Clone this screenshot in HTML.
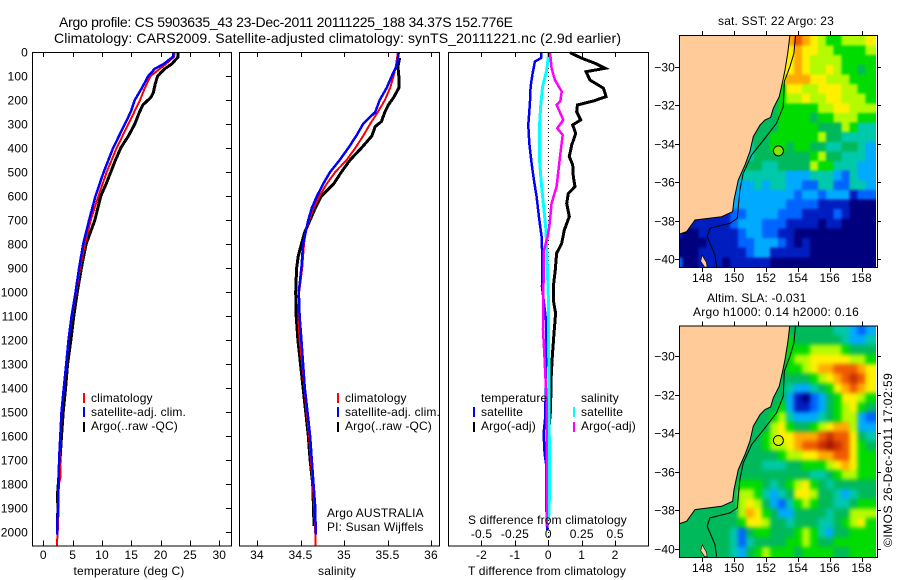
<!DOCTYPE html>
<html lang="en">
<head>
<meta charset="utf-8">
<title>Argo profile</title>
<style>
html,body{margin:0;padding:0;background:#fff;}
svg{display:block;}
text{font-family:"Liberation Sans",sans-serif;font-size:12px;fill:#000;letter-spacing:0.15px;}
.t14{font-size:14px;letter-spacing:0;}
</style>
</head>
<body>
<svg id="chart" xmlns="http://www.w3.org/2000/svg" width="900" height="580" viewBox="0 0 900 580">
  <rect x="0" y="0" width="900" height="580" fill="#fff"/>
  <text class="t14" x="59" y="27" textLength="454">Argo profile: CS 5903635_43 23-Dec-2011 20111225_188 34.37S 152.776E</text>
  <text class="t14" x="54" y="43" textLength="567">Climatology: CARS2009. Satellite-adjusted climatology: synTS_20111221.nc (2.9d earlier)</text>

  <g id="panels"></g>
  <g id="maps"></g>

  <text x="129" y="575" text-anchor="middle">temperature (deg C)</text>
  <text x="337" y="575" text-anchor="middle">salinity</text>
  <text x="547" y="575" text-anchor="middle">T difference from climatology</text>
  <text x="468" y="524">S difference from climatology</text>

  <text x="91" y="402">climatology</text>
  <text x="91" y="416">satellite-adj. clim.</text>
  <text x="91" y="430">Argo(..raw -QC)</text>
  <text x="345" y="402">climatology</text>
  <text x="345" y="416">satellite-adj. clim.</text>
  <text x="345" y="430">Argo(..raw -QC)</text>
  <text x="327" y="517">Argo AUSTRALIA</text>
  <text x="327" y="531">PI: Susan Wijffels</text>
  <text x="481" y="402">temperature</text>
  <text x="481" y="416">satellite</text>
  <text x="481" y="430">Argo(-adj)</text>
  <text x="581" y="402">salinity</text>
  <text x="581" y="416">satellite</text>
  <text x="581" y="430">Argo(-adj)</text>

  <rect x="83" y="393" width="2" height="10" fill="#f00"/>
  <rect x="83" y="407" width="2" height="10" fill="#00f"/>
  <rect x="83" y="422" width="2" height="10" fill="#000"/>
  <rect x="337" y="393" width="2" height="10" fill="#f00"/>
  <rect x="337" y="407" width="2" height="10" fill="#00f"/>
  <rect x="337" y="422" width="2" height="10" fill="#000"/>
  <rect x="473" y="407" width="2" height="10" fill="#00f"/>
  <rect x="473" y="422" width="2" height="10" fill="#000"/>
  <rect x="573" y="407" width="2" height="10" fill="#0ff"/>
  <rect x="573" y="422" width="2" height="10" fill="#f0f"/>

  <text x="776" y="25" text-anchor="middle">sat. SST: 22 Argo: 23</text>
  <text x="707" y="302">Altim. SLA: -0.031</text>
  <text x="693" y="316" textLength="166">Argo h1000: 0.14 h2000: 0.16</text>
  <text transform="translate(892,547) rotate(-90)" textLength="174">©IMOS 26-Dec-2011 17:02:59</text>
</svg>

<script>
// ---- depth axis ----
const depthTicks = [0,100,200,300,400,500,600,700,800,900,1000,1100,1200,1300,1400,1500,1600,1700,1800,1900,2000];
const tempTicks = [0,5,10,15,20,25,30];
const salTicks = [34,34.5,35,35.5,36];
const tDiffTicks = [-2,-1,0,1,2];
const sDiffTicks = [-0.5,-0.25,0,0.25,0.5];
const sDiffTickLabels = ['-0.5','-0.25','0','0.25','0.5'];

// ---- temperature panel ----
const tempSatDepth = [0,20,50,70,100,150,200,250,300,400,500,600,700,800,900,1000,1100,1200,1300,1400,1500,1600,1700,1800,1900,1950,2000,2010];
const tempSat = [22.2,22.1,20.5,19,17.9,16.8,15.6,14.9,13.9,11.9,10.3,8.9,7.8,6.8,6.1,5.5,4.83,4.3,3.9,3.5,3.1,2.9,2.7,2.6,2.5,2.4,2.33,2.33];
const tempClimDepth = [0,20,50,100,150,200,300,400,500,600,700,800,900,1000,1100,1200,1300,1400,1500,1600,1700,1730,1770,1800,1900,2000,2056];
const tempClim = [22.4,22.3,20.9,18.3,17.3,16.5,14.5,12.5,10.8,9.4,8.1,7.1,6.25,5.6,4.9,4.35,3.95,3.55,3.15,2.95,2.8,2.95,2.95,2.65,2.6,2.45,2.3];
const tempArgoDepth = [0,20,50,70,100,130,170,190,220,250,300,350,400,450,500,550,600,700,800,900,1000,1100,1200,1300,1400,1500,1600,1700,1800,1850,1900,1950];
const tempArgo = [23,23,21.9,20.7,19.5,19.1,18.75,18.3,17,16.4,15.6,14.5,13.2,12.3,11.5,10.7,9.8,8.8,7.3,6.5,5.8,5.2,4.7,4.15,3.8,3.4,3.1,2.85,2.55,2.4,2.5,2.4];

// ---- salinity panel ----
const salSatDepth = [0,50,70,100,150,200,250,300,350,400,450,500,550,600,650,700,750,800,900,1000,1100,1200,1300,1400,1500,1600,1700,1800,1900,2010];
const salSat = [35.63,35.61,35.59,35.55,35.49,35.41,35.36,35.22,35.14,35.05,34.95,34.84,34.76,34.69,34.63,34.59,34.56,34.53,34.51,34.48,34.49,34.51,34.53,34.55,34.58,34.61,34.63,34.65,34.67,34.675];
const salClimDepth = [0,50,70,100,150,200,250,300,350,400,450,500,550,600,650,700,750,800,900,1000,1100,1200,1300,1400,1500,1600,1700,1800,1900,2056];
const salClim = [35.62,35.6,35.59,35.57,35.53,35.47,35.39,35.3,35.22,35.13,35.03,34.9,34.8,34.72,34.65,34.6,34.56,34.54,34.52,34.485,34.475,34.49,34.52,34.545,34.57,34.6,34.62,34.64,34.66,34.675];
const salArgoDepth = [25,60,100,150,170,190,220,250,290,310,350,400,450,500,550,600,650,700,750,800,850,900,1000,1100,1200,1300,1400,1500,1600,1700,1800,1900,1975];
const salArgo = [35.64,35.62,35.63,35.63,35.6,35.57,35.51,35.47,35.43,35.36,35.32,35.2,35.07,34.97,34.88,34.74,34.67,34.61,34.55,34.51,34.475,34.455,34.445,34.45,34.47,34.5,34.53,34.56,34.59,34.61,34.64,34.65,34.655];

// ---- difference panel ----
const dTSatDepth = [0,25,40,89,144,214,304,380,464,533,603,686,769,853,978,1117,1311,1519,1589,1672,1714,1867,1992];
const dTSat = [-0.22,-0.22,-0.4,-0.47,-0.53,-0.55,-0.6,-0.57,-0.5,-0.43,-0.35,-0.28,-0.2,-0.18,-0.19,-0.07,-0.07,-0.09,-0.14,-0.11,-0.07,-0.07,-0.03];
const dTArgoDepth = [3,26,47,68,82,117,151,186,204,221,249,283,304,339,388,436,471,519,561,589,631,686,742,797,839,908,978,1033,1089,1172,1269,1367,1492,1547,1658,1950];
const dTArgo = [0.65,1.0,1.4,1.7,1.13,1.25,1.65,1.73,1.35,0.87,0.85,0.97,0.73,0.82,0.7,0.63,0.73,0.75,0.8,0.6,0.55,0.63,0.48,0.4,0.25,0.21,0.15,0.15,0.22,0.17,0.12,0.08,0.07,0.03,0,-0.03];
const dSSatDepth = [0,47,89,144,228,325,436,533,631,742,853,1019,1172,1630,1867,1950];
const dSSat = [0.003,-0.005,-0.0175,-0.0425,-0.0575,-0.0675,-0.0675,-0.055,-0.0375,-0.0175,-0.01,0,0.002,0.0075,0.0075,0.002];
const dSArgoDepth = [0,68,117,165,205,220,283,318,346,436,561,630,728,776,825,1020,1158,1255,1367,1450,1977];
const dSArgo = [0.0125,0.025,0.05,0.1,0.09,0.0625,0.1125,0.0675,0.1075,0.0875,0.0625,0.025,0.0075,-0.0075,-0.0325,-0.0375,-0.04,-0.03,-0.02,-0.0125,-0.01];

// ---- map axes ----
const lonTicks = [148,150,152,154,156,158];
const latTicks = [-30,-32,-34,-36,-38,-40];
const lonTickLabels = ['148','150','152','154','156','158'];
const latTickLabels = ['\u221230','\u221232','\u221234','\u221236','\u221238','\u221240'];

// ---- map cells: one hex digit per 0.5-degree cell, right aligned on 25 columns ----
const sstRows = [
"9a987667778","889887766667","889877776666","889877876656","799988777666","688778887766",
"5677877887776","5666667788777","55666656677766","555666665557644","556666667554444",
"4556656655445543","4555555567554443","45544555576644433","44444433344432433",
"433434433224422443","333333332332333122","333333322221111000",
"1111111223333222111121000","1111111233322211110110000","1001111123322110000000000",
"0000111122333210100000000","0001111112331111100000000","2001110111110000000000000"
];
const slaRows = [
"55555544323","565555554334","566677776555","567788888776","5667899aaa98","55556789aba8",
"5543345689a98","5531023568876","55631123567865","556743334567732","557865567899733",
"556788999abaa854","5567789aabcba865","555556778899aa866","55544455666789866",
"555555555544567766","566654567865455555","577643458875543455",
"5555555578753246765544566","5555555579865335555455777","5555555568875545554456786",
"5555555425665556764355666","5555555424555566765566666","5555555435676665666655666"
];
const coastLon = [153.5,153.36,153.19,153.04,152.83,152.46,152.29,151.93,151.62,151.2,150.99,150.68,150.26,149.99,149.9,149.21,147.54,147.02,146.56];
const coastLat = [-28.37,-29.31,-30.17,-30.78,-31.56,-32.16,-32.63,-32.77,-33.03,-33.63,-34.41,-35.1,-35.88,-36.92,-37.53,-37.79,-37.96,-38.56,-38.69];
const islandLon = [148,148.1,148.25,148.3,148.15,147.9];
const islandLat = [-39.78,-39.95,-40.15,-40.4,-40.4,-40.1];
const isobathLon = [153.86,153.75,153.5,153.15,153.08,152.66,151.93,151.1,150.57,150.36,150.26,150.2,149.74,148.48,148.31,148.8,148.9];
const isobathLat = [-28.37,-29.31,-30,-30.78,-32.08,-32.94,-33.72,-34.58,-35.54,-36.4,-37.27,-37.87,-38.13,-38.39,-38.82,-39.78,-40.4];
const floatLon = 152.776;
const floatLat = -34.37;

const palette = ['#00007f','#001ec0','#0064ff','#00aaff','#00c8aa','#00b95a','#00dc00','#b4fa00','#fff000','#ffaa00','#f05a00','#c83200','#aa1400'];

const NS = 'http://www.w3.org/2000/svg';
const panelsGroup = document.getElementById('panels');
const mapsGroup = document.getElementById('maps');

function make(parent, tag, attrs, name) {
  const el = document.createElementNS(NS, tag);
  for (const k in attrs) el.setAttribute(k, attrs[k]);
  
  
  parent.appendChild(el);
  return el;
}
function label(parent, x, y, str, anchor, name) {
  const t = make(parent, 'text', {x: x, y: y, 'text-anchor': anchor}, name);
  t.textContent = str;
  return t;
}

const yTop = 52, yBottom = 545.5;
const yDepth = d => yTop + d * 0.24;

function series(parent, depths, values, xScale, color, width, name) {
  const pts = depths.map((d, i) => xScale(values[i]).toFixed(1) + ',' + yDepth(d).toFixed(1)).join(' ');
  make(parent, 'polyline', {points: pts, fill: 'none', stroke: color, 'stroke-width': width, 'shape-rendering': 'crispEdges', 'stroke-linejoin': 'miter'}, name);
}
function frame(parent, x0, x1, name) {
  make(parent, 'rect', {x: x0 + 0.5, y: yTop + 0.5, width: x1 - x0, height: yBottom - yTop, fill: 'none', stroke: '#000', 'stroke-width': 1, 'shape-rendering': 'crispEdges'}, name);
}
function xTicks(parent, ticks, xScale, name) {
  ticks.forEach(v => {
    const x = Math.round(xScale(v)) + 0.5;
    make(parent, 'line', {x1: x, x2: x, y1: yTop, y2: yTop + 5, stroke: '#000', 'shape-rendering': 'crispEdges'}, name + '-top-tick');
    make(parent, 'line', {x1: x, x2: x, y1: yBottom, y2: yBottom - 5, stroke: '#000', 'shape-rendering': 'crispEdges'}, name + '-bottom-tick');
  });
}

const xTemp = v => 43.3 + v * 5.867;
const xSal = v => 257 + (v - 34) * 87;
const xDT = v => 548.3 + v * 33.4;
const xDS = v => 548.3 + v * 133.6;

// temperature panel
const p1 = make(panelsGroup, 'g', {}, 'temperature-panel');
series(p1, tempArgoDepth, tempArgo, xTemp, '#000', 3, 'temperature-argo-line');
series(p1, tempClimDepth, tempClim, xTemp, '#f00', 2, 'temperature-climatology-line');
series(p1, tempSatDepth, tempSat, xTemp, '#00f', 2.5, 'temperature-satellite-line');
frame(p1, 32, 231, 'temperature-panel-frame');
xTicks(p1, tempTicks, xTemp, 'temperature');
tempTicks.forEach(v => label(p1, xTemp(v), 559, String(v), 'middle', 'temperature-tick-label'));
depthTicks.forEach(d => {
  const y = Math.round(yDepth(d)) + 0.5;
  make(p1, 'line', {x1: 226, x2: 231, y1: y, y2: y, stroke: '#000', 'shape-rendering': 'crispEdges'}, 'depth-tick');
  label(p1, 28, y + 4, String(d), 'end', 'depth-tick-label');
});

// salinity panel
const p2 = make(panelsGroup, 'g', {}, 'salinity-panel');
series(p2, salArgoDepth, salArgo, xSal, '#000', 3, 'salinity-argo-line');
series(p2, salClimDepth, salClim, xSal, '#f00', 2, 'salinity-climatology-line');
series(p2, salSatDepth, salSat, xSal, '#00f', 2.5, 'salinity-satellite-line');
frame(p2, 239, 439, 'salinity-panel-frame');
xTicks(p2, salTicks, xSal, 'salinity');
salTicks.forEach(v => label(p2, xSal(v), 559, String(v), 'middle', 'salinity-tick-label'));

// difference panel
const p3 = make(panelsGroup, 'g', {}, 'difference-panel');
make(p3, 'line', {x1: 548.5, x2: 548.5, y1: yTop, y2: yBottom, stroke: '#000', 'stroke-dasharray': '1 3', 'shape-rendering': 'crispEdges'}, 'zero-difference-line');
series(p3, dTSatDepth, dTSat, xDT, '#00f', 2.5, 'temperature-satellite-difference-line');
series(p3, dTArgoDepth, dTArgo, xDT, '#000', 3, 'temperature-argo-difference-line');
series(p3, dSSatDepth, dSSat, xDS, '#0ff', 3, 'salinity-satellite-difference-line');
series(p3, dSArgoDepth, dSArgo, xDS, '#f0f', 2.5, 'salinity-argo-difference-line');
frame(p3, 448, 648, 'difference-panel-frame');
xTicks(p3, tDiffTicks, xDT, 'difference');
tDiffTicks.forEach(v => label(p3, xDT(v), 559, String(v), 'middle', 't-difference-tick-label'));
sDiffTicks.forEach((v, i) => label(p3, xDS(v), 538, sDiffTickLabels[i], 'middle', 's-difference-tick-label'));

// maps
const mapX0 = 679, mapX1 = 877;
const xLon = lon => 702.3 + (lon - 148) * 15.93;
function drawMap(rows, yT, yB, markerFill, name, yAt30, blur) {
  const yLat = lat => yAt30 + (-30 - lat) * 19.26;
  const g = make(mapsGroup, 'g', {}, name);
  const clipId = name + '-clip';
  const cp = make(g, 'clipPath', {id: clipId}, name + '-clip-region');
  make(cp, 'rect', {x: mapX0, y: yT, width: mapX1 - mapX0 - 1, height: yB - yT}, name + '-clip-rect');
  const filterId = name + '-soften';
  const filt = make(g, 'filter', {id: filterId, filterUnits: 'userSpaceOnUse', x: mapX0 - 10, y: yT - 10, width: mapX1 - mapX0 + 20, height: yB - yT + 20, 'color-interpolation-filters': 'sRGB'}, name + '-soften-filter');
  make(filt, 'feGaussianBlur', {stdDeviation: blur, result: 'soft'}, name + '-blur-step');
  const transfer = make(filt, 'feComponentTransfer', {}, name + '-alpha-step');
  make(transfer, 'feFuncA', {type: 'linear', slope: 60, intercept: 0}, name + '-alpha-function');
  const inner = make(g, 'g', {'clip-path': 'url(#' + clipId + ')'}, name + '-image');
  const cells = make(inner, 'g', {filter: 'url(#' + filterId + ')'}, name + '-cells');
  rows.forEach((row, r) => {
    const full = row.padStart(25, row[0]);
    for (let c = 0; c < 25; c++) {
      const lon = 146.25 + 0.5 * c;
      const lat = -28.4 - 0.5 * r;
      const cell = document.createElementNS(NS, 'rect');
      cell.setAttribute('x', xLon(lon).toFixed(1));
      cell.setAttribute('y', yLat(lat).toFixed(1));
      cell.setAttribute('width', c === 24 ? '14' : '8.4');
      cell.setAttribute('height', '10');
      cell.setAttribute('fill', palette[parseInt(full[c], 16)]);
      cell.setAttribute('shape-rendering', 'crispEdges');
      
      
      cells.appendChild(cell);
    }
  });
  const landPts = coastLon.map((lon, i) => xLon(lon).toFixed(1) + ',' + yLat(coastLat[i]).toFixed(1));
  landPts.push(mapX0 + ',' + yLat(coastLat[coastLat.length - 1]).toFixed(1));
  landPts.push(mapX0 + ',' + yT);
  landPts.push(xLon(coastLon[0]).toFixed(1) + ',' + yT);
  make(inner, 'polygon', {points: landPts.join(' '), fill: '#ffcc99', stroke: '#000', 'stroke-width': 1}, name + '-land');
  make(inner, 'polygon', {points: islandLon.map((lon, i) => xLon(lon).toFixed(1) + ',' + yLat(islandLat[i]).toFixed(1)).join(' '), fill: '#ffcc99', stroke: '#000', 'stroke-width': 0.6}, name + '-island');
  make(inner, 'polyline', {points: isobathLon.map((lon, i) => xLon(lon).toFixed(1) + ',' + yLat(isobathLat[i]).toFixed(1)).join(' '), fill: 'none', stroke: '#000', 'stroke-width': 1}, name + '-isobath');
  make(inner, 'circle', {cx: xLon(floatLon), cy: yLat(floatLat), r: 5, fill: markerFill, stroke: '#000', 'stroke-width': 1}, name + '-float-marker');
  make(g, 'rect', {x: mapX0 + 0.5, y: yT + 0.5, width: mapX1 - mapX0, height: yB - yT, fill: 'none', stroke: '#000', 'shape-rendering': 'crispEdges'}, name + '-frame');
  lonTicks.forEach((lon, i) => {
    const x = Math.round(xLon(lon)) + 0.5;
    make(g, 'line', {x1: x, x2: x, y1: yT - 4, y2: yT, stroke: '#000', 'shape-rendering': 'crispEdges'}, name + '-lon-top-tick');
    make(g, 'line', {x1: x, x2: x, y1: yB, y2: yB + 5, stroke: '#000', 'shape-rendering': 'crispEdges'}, name + '-lon-bottom-tick');
    label(g, xLon(lon), yB + 15, lonTickLabels[i], 'middle', name + '-lon-tick-label');
  });
  latTicks.forEach((lat, i) => {
    const y = Math.round(yLat(lat)) + 0.5;
    make(g, 'line', {x1: mapX0 - 4, x2: mapX0, y1: y, y2: y, stroke: '#000', 'shape-rendering': 'crispEdges'}, name + '-lat-left-tick');
    make(g, 'line', {x1: mapX1, x2: mapX1 + 4, y1: y, y2: y, stroke: '#000', 'shape-rendering': 'crispEdges'}, name + '-lat-right-tick');
    label(g, 675, y + 4, latTickLabels[i], 'end', name + '-lat-tick-label');
  });
}
drawMap(sstRows, 35, 267, '#7fe600', 'sst-map', 66.7, 1.2);
drawMap(slaRows, 325.5, 557, '#d8f000', 'sla-map', 356.3, 2.2);
</script>
</body>
</html>
